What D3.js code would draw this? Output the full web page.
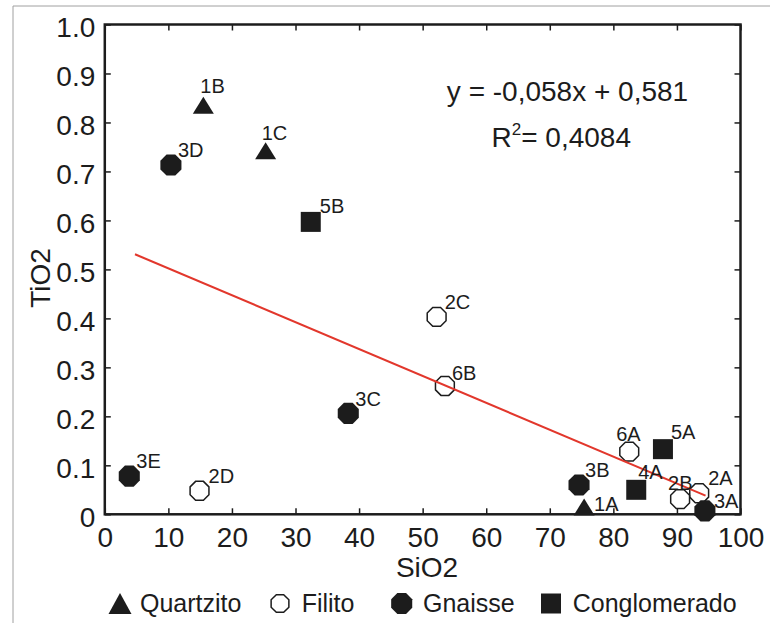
<!DOCTYPE html>
<html>
<head>
<meta charset="utf-8">
<script src="https://cdn.jsdelivr.net/npm/d3@7"></script>
<style>
  html, body { margin: 0; padding: 0; background: #fff; }
  svg { display: block; font-family: "Liberation Sans", Arial, Helvetica, sans-serif; }
</style>
</head>
<body>
<svg id="chart" width="770" height="623"></svg>
<script>
// Sample identifiers, rock type and oxide contents (wt. fraction scale of the plot)
const sampleIds = ["1A","1B","1C","2A","2B","2C","2D","3A","3B","3C","3D","3E","4A","5A","5B","6A","6B"];
const rockTypes = ["Quartzito","Quartzito","Quartzito","Filito","Filito","Filito","Filito",
                   "Gnaisse","Gnaisse","Gnaisse","Gnaisse","Gnaisse",
                   "Conglomerado","Conglomerado","Conglomerado","Filito","Filito"];
const siO2 = [75.4, 15.5, 25.3, 93.5, 90.5, 52.2, 14.9, 94.4, 74.6, 38.3, 10.4, 3.85, 83.6, 87.8, 32.4, 82.5, 53.5];
const tiO2 = [0.015, 0.835, 0.742, 0.043, 0.031, 0.403, 0.048, 0.007, 0.060, 0.206, 0.713, 0.078, 0.050, 0.133, 0.597, 0.128, 0.262];

// Linear trend drawn across the sampled SiO2 range
const trendSiO2 = [4.75, 94.5];
const trendTiO2 = [0.531, 0.038];
const equationText = "y = -0,058x + 0,581";
const r2Value = "= 0,4084";

// Legend entries and axis ticks
const legendTypes = ["Quartzito", "Filito", "Gnaisse", "Conglomerado"];
const xTicks = [0, 10, 20, 30, 40, 50, 60, 70, 80, 90, 100];
const yTicks = [0, 0.1, 0.2, 0.3, 0.4, 0.5, 0.6, 0.7, 0.8, 0.9, 1.0];

// ---- layout ----
const ink = "#1c1c1c";
const svg = d3.select("#chart");
const x = d3.scaleLinear().domain([0, 100]).range([104.8, 740.5]);
const y = d3.scaleLinear().domain([0, 1]).range([514.3, 24.5]);

// label placement relative to each marker (start x, baseline y)
const labelNudge = {
  "1A": [10, 4], "1B": [-3, -12], "1C": [-4, -11], "2A": [9, -8], "2B": [-12, -9],
  "2C": [8, -8], "2D": [9, -8], "3A": [9, -3], "3B": [6, -8], "3C": [7, -7],
  "3D": [7, -8], "3E": [7, -8], "4A": [2, -11], "5A": [8, -10], "5B": [9, -9],
  "6A": [-13, -11], "6B": [7, -6]
};

// outer image border
svg.append("line").attr("x1", 13).attr("y1", 6).attr("x2", 770).attr("y2", 6)
  .attr("stroke", "#a0a0a0").attr("stroke-width", 1);
svg.append("line").attr("x1", 13).attr("y1", 6).attr("x2", 13).attr("y2", 623)
  .attr("stroke", "#a0a0a0").attr("stroke-width", 1);

// marker shapes
function octagonPath(r) {
  const pts = d3.range(8).map(k => {
    const a = Math.PI / 8 + k * Math.PI / 4;
    return [r * Math.cos(a), r * Math.sin(a)];
  });
  return "M" + pts.map(p => p.join(",")).join("L") + "Z";
}
function drawMarker(g, type) {
  if (type === "Quartzito") {
    g.append("path").attr("d", "M0,-8.5L10.5,8.5L-10.5,8.5Z").attr("fill", ink);
  } else if (type === "Filito") {
    g.append("path").attr("d", octagonPath(10.2)).attr("fill", "#fff")
      .attr("stroke", ink).attr("stroke-width", 1.5);
  } else if (type === "Gnaisse") {
    g.append("path").attr("d", octagonPath(11.4)).attr("fill", ink);
  } else {
    g.append("rect").attr("x", -10).attr("y", -10).attr("width", 20).attr("height", 20).attr("fill", ink);
  }
}

// axes (ticks point inward)
const xAxis = svg.append("g").attr("transform", `translate(0,${y(0)})`)
  .call(d3.axisBottom(x).tickValues(xTicks).tickSizeInner(-6).tickSizeOuter(0).tickFormat(d3.format("d")));
xAxis.select(".domain").remove();
xAxis.selectAll("line").attr("stroke", ink).attr("stroke-width", 1.5);
xAxis.selectAll("text").attr("y", 12.5).attr("dy", "0.71em")
  .attr("font-size", 28).attr("fill", ink).attr("font-family", null);

const yAxis = svg.append("g").attr("transform", `translate(${x(0)},0)`)
  .call(d3.axisLeft(y).tickValues(yTicks).tickSizeInner(-6).tickSizeOuter(0)
    .tickFormat(d => d === 0 ? "0" : d3.format(".1f")(d)));
yAxis.select(".domain").remove();
yAxis.selectAll("line").attr("stroke", ink).attr("stroke-width", 1.5);
yAxis.selectAll("text").attr("x", -9.5).attr("dy", "0.44em")
  .attr("font-size", 28).attr("fill", ink).attr("font-family", null);

// ticks on the top and right edges of the frame
const topAxis = svg.append("g").attr("transform", `translate(0,${y(1)})`)
  .call(d3.axisTop(x).tickValues(xTicks).tickSizeInner(-6).tickSizeOuter(0).tickFormat(""));
topAxis.select(".domain").remove();
topAxis.selectAll("line").attr("stroke", ink).attr("stroke-width", 1.5);
const rightAxis = svg.append("g").attr("transform", `translate(${x(100)},0)`)
  .call(d3.axisRight(y).tickValues(yTicks).tickSizeInner(-6).tickSizeOuter(0).tickFormat(""));
rightAxis.select(".domain").remove();
rightAxis.selectAll("line").attr("stroke", ink).attr("stroke-width", 1.5);

// plot frame
svg.append("rect")
  .attr("x", x(0)).attr("y", y(1))
  .attr("width", x(100) - x(0)).attr("height", y(0) - y(1))
  .attr("fill", "none").attr("stroke", ink).attr("stroke-width", 2.5);

// axis titles
svg.append("text").attr("x", 427).attr("y", 576.5).attr("text-anchor", "middle")
  .attr("font-size", 28).attr("fill", ink).text("SiO2");
svg.append("text").attr("transform", "translate(49.5,278) rotate(-90)").attr("text-anchor", "middle")
  .attr("font-size", 28).attr("fill", ink).text("TiO2");

// samples
const samples = sampleIds.map((id, i) => ({ id, type: rockTypes[i], si: siO2[i], ti: tiO2[i] }));
const pts = svg.append("g").selectAll("g").data(samples).join("g")
  .attr("transform", d => `translate(${x(d.si)},${y(d.ti)})`);
pts.each(function (d) { drawMarker(d3.select(this), d.type); });

// trend line
svg.append("line")
  .attr("x1", x(trendSiO2[0])).attr("y1", y(trendTiO2[0]))
  .attr("x2", x(trendSiO2[1])).attr("y2", y(trendTiO2[1]))
  .attr("stroke", "#e2372c").attr("stroke-width", 2);

// sample labels
svg.append("g").selectAll("text").data(samples).join("text")
  .attr("x", d => x(d.si) + labelNudge[d.id][0])
  .attr("y", d => y(d.ti) + labelNudge[d.id][1])
  .attr("font-size", 20).attr("fill", ink).text(d => d.id);

// regression equation
svg.append("text").attr("x", 567.5).attr("y", 100.8).attr("text-anchor", "middle")
  .attr("font-size", 28).attr("fill", ink).text(equationText);
const r2 = svg.append("text").attr("x", 491.5).attr("y", 147).attr("font-size", 28).attr("fill", ink);
r2.append("tspan").text("R");
r2.append("tspan").attr("font-size", 17).attr("dy", -12).text("2");
r2.append("tspan").attr("dy", 12).text(r2Value);

// legend
const legendX = [120, 280, 401.7, 551];
const legend = svg.append("g").selectAll("g").data(legendTypes).join("g")
  .attr("transform", (d, i) => `translate(${legendX[i]},603.5)`);
legend.each(function (d) {
  const g = d3.select(this);
  if (d === "Quartzito") {
    g.append("path").attr("d", "M0,-10.5L11.5,10.5L-11.5,10.5Z").attr("fill", ink);
  } else if (d === "Filito") {
    g.append("path").attr("d", octagonPath(9.6)).attr("fill", "#fff")
      .attr("stroke", ink).attr("stroke-width", 1.5);
  } else {
    drawMarker(g, d);
  }
});
legend.append("text").attr("x", (d, i) => [20, 21.7, 21.3, 21.7][i]).attr("y", 8.5)
  .attr("font-size", 25).attr("fill", ink).text(d => d);
</script>
</body>
</html>
